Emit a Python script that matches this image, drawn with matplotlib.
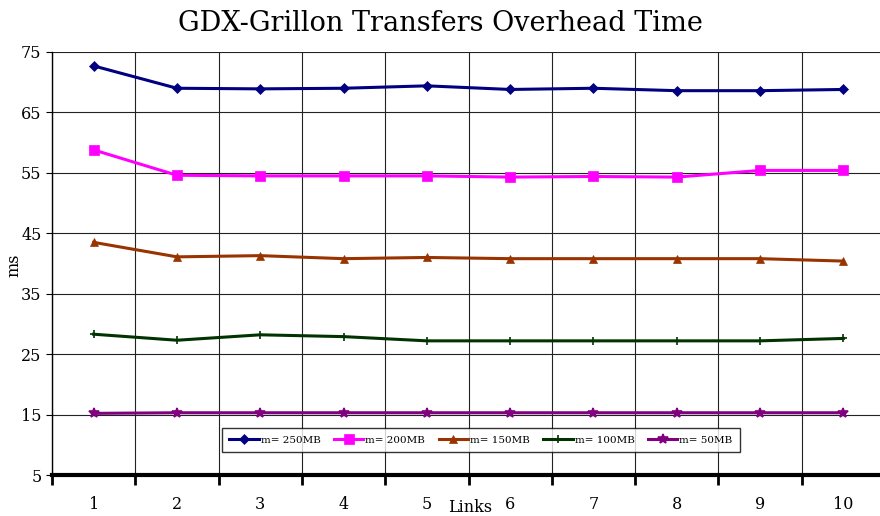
import numpy as np
import matplotlib
matplotlib.use("Agg")
import matplotlib.pyplot as plt
from matplotlib.ticker import FixedLocator, NullFormatter, FixedFormatter

# data
links = [1, 2, 3, 4, 5, 6, 7, 8, 9, 10]
m250 = [72.7, 69.0, 68.9, 69.0, 69.4, 68.8, 69.0, 68.6, 68.6, 68.8]
m200 = [58.8, 54.6, 54.5, 54.5, 54.5, 54.3, 54.4, 54.3, 55.4, 55.4]
m150 = [43.5, 41.1, 41.3, 40.8, 41.0, 40.8, 40.8, 40.8, 40.8, 40.4]
m100 = [28.3, 27.3, 28.2, 27.9, 27.2, 27.2, 27.2, 27.2, 27.2, 27.6]
m50 = [15.2, 15.3, 15.3, 15.3, 15.3, 15.3, 15.3, 15.3, 15.3, 15.3]
labels = ["m= 250MB", "m= 200MB", "m= 150MB", "m= 100MB", "m= 50MB"]

plt.rcParams["font.family"] = ["DejaVu Serif"]

fig = plt.figure(figsize=(8.8, 5.16), dpi=100)
ax = fig.add_axes([52/880, 1 - 475/516, 833/880, 423/516])

series = [m250, m200, m150, m100, m50]
colors = ["#000080", "#ff00ff", "#993300", "#003300", "#800080"]
markers = ["D", "s", "^", "+", "*"]
msizes = [5, 7, 6, 6, 7]
for ys, c, mk, ms, lab in zip(series, colors, markers, msizes, labels):
    ax.plot(links, ys, color=c, marker=mk, markersize=ms, linewidth=2.2,
            markeredgewidth=1.2 if mk in "+*" else 0.5, label=lab)

ax.set_xlim(0.5, 10.5)
ax.set_ylim(5, 75)
ax.set_yticks(np.arange(5, 76, 10))

# gridlines at category boundaries, labels at category centres
ax.xaxis.set_major_locator(FixedLocator(np.arange(0.5, 10.6, 1)))
ax.xaxis.set_major_formatter(NullFormatter())
ax.xaxis.set_minor_locator(FixedLocator(links))
ax.xaxis.set_minor_formatter(FixedFormatter([str(v) for v in links]))
ax.tick_params(axis="x", which="major", direction="out", length=7, width=2, color="black")
ax.tick_params(axis="x", which="minor", length=0, pad=15, labelsize=11.5)
ax.tick_params(axis="y", direction="out", length=4, labelsize=11.5)

ax.grid(True, which="major", color="#222222", linewidth=0.8)
ax.set_axisbelow(True)
for side in ["top", "right"]:
    ax.spines[side].set_visible(False)
ax.spines["bottom"].set_linewidth(3)
ax.spines["left"].set_linewidth(1)

ax.set_xlabel("Links", fontsize=11.5, va="center")
ax.xaxis.set_label_coords((470 - 52) / 833, (475 - 507) / 423)
ax.set_ylabel("ms", fontsize=11.5, va="center")
ax.yaxis.set_label_coords((14 - 52) / 833, (475 - 265) / 423)

fig.suptitle("GDX-Grillon Transfers Overhead Time", fontsize=19.5, y=0.98)

leg = ax.legend(loc="center", bbox_to_anchor=((481 - 52) / 833, (475 - 440) / 423),
                ncol=5, fontsize=7.5, frameon=True, fancybox=False, handlelength=2.8,
                handletextpad=0.2, columnspacing=1.3, borderpad=0.7)
leg.get_frame().set_edgecolor("black")
leg.get_frame().set_linewidth(1)

fig.savefig("out.png", dpi=100)
